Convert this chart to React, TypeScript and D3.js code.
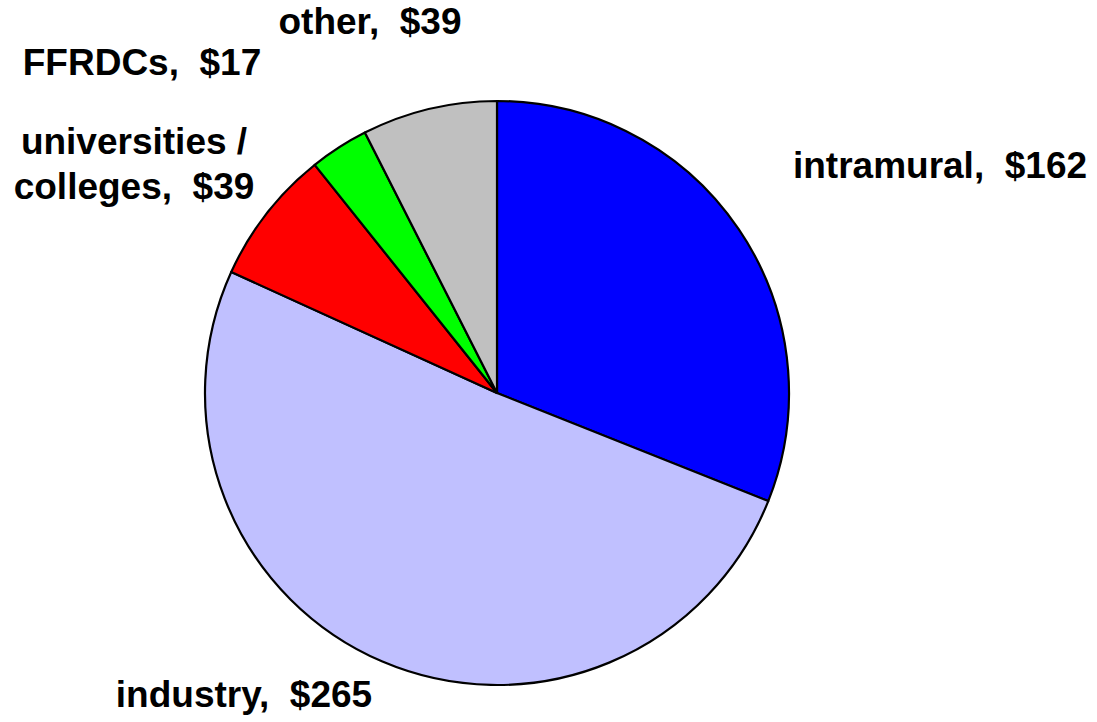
import React, { useEffect, useRef } from 'react';
import * as d3 from 'd3';

const categories = ['intramural', 'industry', 'universities / colleges', 'FFRDCs', 'other'];
const values = [162, 265, 39, 17, 39];
const colors = ['#0000ff', '#c0c0ff', '#ff0000', '#00ff00', '#c0c0c0'];

// label text lines and anchor points (svg coords), kept apart from the data
const labelLines = [
  ['intramural,  $162'],
  ['industry,  $265'],
  ['universities /', 'colleges,  $39'],
  ['FFRDCs,  $17'],
  ['other,  $39'],
];
const labelPos: [number, number][] = [
  [940, 178],
  [244, 707],
  [134, 154],
  [142, 75],
  [370, 34],
];

const App: React.FC = () => {
  const ref = useRef<SVGSVGElement | null>(null);

  useEffect(() => {
    if (!ref.current) return;
    const width = 1097;
    const height = 722;
    const cx = 497;
    const cy = 393;
    const radius = 292;

    const svg = d3.select(ref.current).attr('width', width).attr('height', height);
    svg.selectAll('*').remove();

    const pie = d3.pie<number>().value(d => d).sort(null)(values);
    const arc = d3.arc<d3.PieArcDatum<number>>().innerRadius(0).outerRadius(radius);

    const g = svg.append('g').attr('transform', `translate(${cx}, ${cy})`);
    g.selectAll('path')
      .data(pie)
      .enter()
      .append('path')
      .attr('d', arc)
      .attr('fill', (d, i) => colors[i])
      .attr('stroke', '#000')
      .attr('stroke-width', 2.2)
      .attr('stroke-linejoin', 'round');

    const labels = svg.append('g')
      .attr('font-family', '"Liberation Sans", Arial, sans-serif')
      .attr('font-weight', 'bold')
      .attr('font-size', 37)
      .attr('text-anchor', 'middle');

    categories.forEach((c, i) => {
      const [x, y] = labelPos[i];
      const t = labels.append('text').attr('x', x).attr('y', y).style('white-space', 'pre');
      labelLines[i].forEach((line, j) => {
        t.append('tspan').attr('x', x).attr('y', y + j * 45).text(line);
      });
    });

    return () => {
      d3.select(ref.current).selectAll('*').remove();
    };
  }, []);

  return (
    <div style={{ position: 'absolute', left: 0, top: 0, width: 1097, height: 722, background: '#fff' }}>
      <svg ref={ref} style={{ display: 'block' }}></svg>
    </div>
  );
};

export default App;
